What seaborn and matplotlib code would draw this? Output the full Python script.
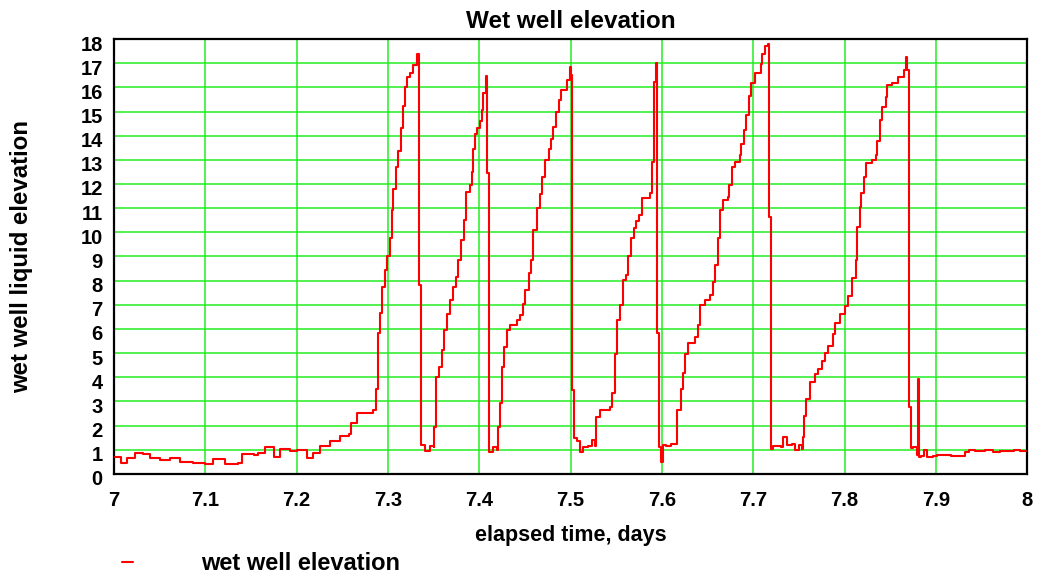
import numpy as np
import pandas as pd
import matplotlib
matplotlib.use("Agg")
import matplotlib.pyplot as plt
import matplotlib.transforms as mtransforms
import seaborn as sns

# elapsed time (days) and wet well liquid elevation
days = [
    7.001, 7.008, 7.014, 7.023, 7.032, 7.039, 7.050, 7.061, 7.072, 7.087,
    7.100, 7.109, 7.122, 7.136, 7.140, 7.153, 7.158, 7.165, 7.175, 7.182,
    7.193, 7.200, 7.211, 7.218, 7.226, 7.237, 7.248, 7.257, 7.260, 7.266,
    7.284, 7.287, 7.289, 7.291, 7.294, 7.297, 7.299, 7.302, 7.304, 7.306,
    7.309, 7.311, 7.314, 7.316, 7.319, 7.321, 7.324, 7.328, 7.332, 7.334,
    7.336, 7.341, 7.346, 7.350, 7.351, 7.353, 7.356, 7.359, 7.361, 7.365,
    7.368, 7.371, 7.375, 7.377, 7.380, 7.383, 7.386, 7.390, 7.392, 7.393,
    7.395, 7.398, 7.401, 7.403, 7.404, 7.407, 7.409, 7.411, 7.415, 7.419,
    7.421, 7.423, 7.425, 7.427, 7.430, 7.434, 7.441, 7.445, 7.448, 7.450,
    7.454, 7.457, 7.459, 7.463, 7.467, 7.469, 7.472, 7.476, 7.479, 7.481,
    7.484, 7.487, 7.490, 7.496, 7.499, 7.501, 7.502, 7.504, 7.507, 7.510,
    7.514, 7.519, 7.523, 7.527, 7.528, 7.532, 7.543, 7.545, 7.549, 7.551,
    7.554, 7.557, 7.561, 7.563, 7.566, 7.569, 7.572, 7.575, 7.578, 7.587,
    7.589, 7.591, 7.593, 7.595, 7.597, 7.599, 7.601, 7.605, 7.610, 7.614,
    7.616, 7.617, 7.621, 7.623, 7.625, 7.629, 7.636, 7.639, 7.642, 7.647,
    7.653, 7.656, 7.658, 7.661, 7.664, 7.667, 7.672, 7.674, 7.677, 7.680,
    7.685, 7.687, 7.690, 7.692, 7.695, 7.698, 7.702, 7.708, 7.710, 7.713,
    7.716, 7.717, 7.719, 7.722, 7.730, 7.733, 7.737, 7.742, 7.746, 7.750,
    7.753, 7.754, 7.756, 7.758, 7.762, 7.768, 7.771, 7.775, 7.779, 7.782,
    7.787, 7.790, 7.795, 7.801, 7.804, 7.808, 7.812, 7.814, 7.817, 7.818,
    7.821, 7.824, 7.830, 7.834, 7.836, 7.839, 7.841, 7.845, 7.847, 7.852,
    7.859, 7.865, 7.867, 7.868, 7.870, 7.871, 7.873, 7.875, 7.879, 7.880,
    7.882, 7.884, 7.887, 7.890, 7.897, 7.901, 7.916, 7.927, 7.932, 7.936,
    7.943, 7.954, 7.963, 7.970, 7.985, 7.992, 7.999,
]
elevation = [
    0.72, 0.44, 0.65, 0.88, 0.83, 0.67, 0.58, 0.65, 0.51, 0.47,
    0.41, 0.61, 0.41, 0.44, 0.83, 0.79, 0.86, 1.10, 0.72, 1.02,
    0.96, 0.99, 0.67, 0.88, 1.16, 1.38, 1.57, 1.65, 2.10, 2.51,
    2.65, 3.50, 5.82, 6.65, 7.75, 8.44, 9.00, 9.76, 10.93, 11.78,
    12.69, 13.38, 14.30, 15.23, 16.03, 16.44, 16.60, 16.92, 17.38, 7.82,
    1.20, 0.96, 1.16, 1.13, 1.96, 4.02, 4.43, 5.12, 5.95, 6.63,
    7.18, 7.74, 8.15, 8.84, 9.67, 10.50, 11.67, 11.95, 12.50, 13.46,
    14.08, 14.30, 14.60, 15.06, 15.75, 16.46, 12.44, 0.92, 1.13, 1.00,
    1.96, 2.93, 4.43, 5.26, 5.95, 6.16, 6.37, 6.58, 7.05, 7.60,
    8.30, 8.84, 10.10, 11.00, 11.60, 12.30, 13.00, 13.46, 13.88, 14.36,
    14.99, 15.47, 15.88, 16.30, 16.85, 16.50, 3.47, 1.48, 1.35, 0.90,
    1.13, 1.16, 1.40, 1.16, 2.37, 2.65, 2.79, 3.34, 4.98, 6.37,
    6.99, 8.03, 8.25, 9.00, 9.76, 10.17, 10.45, 10.72, 11.41, 11.62,
    12.93, 16.24, 17.00, 5.82, 1.13, 0.51, 1.20, 1.16, 1.22, 1.25,
    1.60, 2.65, 3.50, 4.16, 4.98, 5.40, 5.68, 6.16, 6.99, 7.20,
    7.40, 7.96, 8.65, 9.76, 10.93, 11.34, 11.48, 11.96, 12.72, 12.93,
    13.20, 13.66, 14.22, 14.84, 15.65, 16.20, 16.60, 16.96, 17.40, 17.72,
    17.80, 10.65, 1.02, 1.16, 1.10, 1.52, 1.20, 1.25, 1.00, 1.20,
    1.05, 1.52, 2.40, 3.10, 3.80, 4.13, 4.34, 4.68, 5.02, 5.30,
    5.78, 6.26, 6.60, 6.94, 7.35, 8.10, 8.84, 10.24, 11.06, 11.61,
    12.30, 12.86, 13.00, 13.20, 13.80, 14.64, 15.20, 15.61, 16.10, 16.20,
    16.44, 16.71, 17.26, 16.70, 16.03, 2.79, 1.06, 1.10, 0.78, 3.92,
    0.72, 0.75, 0.99, 0.70, 0.76, 0.80, 0.76, 0.76, 0.90, 1.00,
    0.96, 0.99, 0.92, 0.97, 1.00, 0.96, 0.95,
]

x_ticks = [7, 7.1, 7.2, 7.3, 7.4, 7.5, 7.6, 7.7, 7.8, 7.9, 8]
x_tick_labels = ["7", "7.1", "7.2", "7.3", "7.4", "7.5", "7.6", "7.7", "7.8", "7.9", "8"]
y_ticks = list(range(0, 19))

df = pd.DataFrame({"elapsed time, days": days, "wet well elevation": elevation})

sns.set_style("white")
plt.rcParams["font.family"] = ["Liberation Sans", "DejaVu Sans"]
plt.rcParams["font.weight"] = "bold"
plt.rcParams["text.color"] = "black"
plt.rcParams["axes.labelcolor"] = "black"
plt.rcParams["xtick.color"] = "black"
plt.rcParams["ytick.color"] = "black"

fig = plt.figure(figsize=(10.45, 5.78), dpi=100)
ax = fig.add_axes([0.109, 0.180, 0.874, 0.7525])

sns.lineplot(data=df, x="elapsed time, days", y="wet well elevation", ax=ax,
             color="#ff0000", linewidth=1.5, drawstyle="steps-post",
             estimator=None, sort=False, label="wet well elevation", zorder=3)

ax.set_xlim(7, 8)
ax.set_ylim(0, 18)
ax.set_xticks(x_ticks)
ax.set_xticklabels(x_tick_labels)
ax.set_yticks(y_ticks)
ax.grid(True, color="#22ee22", linewidth=1.1)
ax.set_axisbelow(True)
ax.tick_params(axis="both", length=0, labelsize=14.5, labelcolor="black")
ax.tick_params(axis="y", pad=8)
ax.tick_params(axis="x", pad=12)
for lab in ax.get_xticklabels() + ax.get_yticklabels():
    lab.set_fontweight("bold")
# labels in the reference sit a little below their grid lines
shift = mtransforms.ScaledTranslation(0, -4 / 100, fig.dpi_scale_trans)
for lab in ax.get_yticklabels():
    lab.set_transform(lab.get_transform() + shift)

for s in ax.spines.values():
    s.set_color("black")
    s.set_linewidth(1.6)

ax.set_title("Wet well elevation", fontsize=17.5, fontweight="bold", pad=8, color="black")
ax.set_xlabel("elapsed time, days", fontsize=15.5, fontweight="bold", labelpad=11)
ax.set_ylabel("wet well liquid elevation", fontsize=17.3, fontweight="bold", labelpad=34)

ax.legend(loc="center left", bbox_to_anchor=(0.096, 0.025), bbox_transform=fig.transFigure,
          frameon=False, handlelength=0.5, handletextpad=2.85,
          prop={"size": 17, "weight": "bold"}, labelcolor="black")

fig.savefig("out.png", dpi=100)
